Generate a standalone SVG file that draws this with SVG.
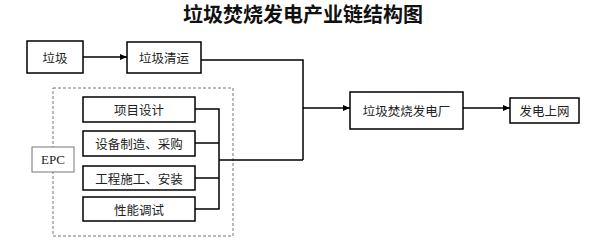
<svg xmlns="http://www.w3.org/2000/svg" width="609" height="251" viewBox="0 0 609 251">
<style>
.box{fill:#fff;stroke:#000;stroke-width:1.5}
.t{font-family:"Noto Sans CJK SC","Liberation Sans",sans-serif;font-size:12.5px;fill:#222;text-anchor:middle;dominant-baseline:central}
.ln{fill:none;stroke:#000;stroke-width:1.5}
</style>
<defs>
<marker id="ah" markerWidth="8" markerHeight="8" refX="7" refY="4" orient="auto" markerUnits="userSpaceOnUse">
<path d="M0,1 L7,4 L0,7 Z" fill="#000"/>
</marker>
</defs>
<rect width="609" height="251" fill="#fff"/>
<text x="303" y="13" font-family="'Noto Sans CJK SC',sans-serif" font-size="20" font-weight="bold" text-anchor="middle" dominant-baseline="central" fill="#111">垃圾焚烧发电产业链结构图</text>
<g id="epc-frame">
<rect x="53" y="88" width="180" height="148" fill="none" stroke="#777" stroke-width="1" stroke-dasharray="3,2"/>
</g>
<g id="connectors">
<line class="ln" x1="83" y1="57" x2="127" y2="57" marker-end="url(#ah)"/>
<polyline class="ln" points="201,60 303,60 303,160"/>
<polyline class="ln" points="195,109 219,109 219,209 195,209"/>
<line class="ln" x1="195" y1="143" x2="219" y2="143"/>
<line class="ln" x1="195" y1="178" x2="219" y2="178"/>
<line class="ln" x1="219" y1="160" x2="303" y2="160"/>
<line class="ln" x1="303" y1="108" x2="350" y2="108" marker-end="url(#ah)"/>
<line class="ln" x1="463" y1="108" x2="510" y2="108" marker-end="url(#ah)"/>
</g>
<g id="n-laji"><rect class="box" x="27" y="41" width="56" height="32"/><text class="t" x="55" y="57">垃圾</text></g>
<g id="n-qingyun"><rect class="box" x="127" y="42" width="74" height="31"/><text class="t" x="164" y="57.5">垃圾清运</text></g>
<g id="n-sheji"><rect class="box" x="83" y="97" width="112" height="25"/><text class="t" x="139" y="109.5">项目设计</text></g>
<g id="n-caigou"><rect class="box" x="83" y="131" width="112" height="25"/><text class="t" x="139" y="143.5">设备制造、采购</text></g>
<g id="n-anzhuang"><rect class="box" x="83" y="166" width="112" height="24"/><text class="t" x="139" y="178">工程施工、安装</text></g>
<g id="n-tiaoshi"><rect class="box" x="83" y="197" width="112" height="24"/><text class="t" x="139" y="209">性能调试</text></g>
<g id="n-epc"><rect x="32" y="147" width="42" height="25" fill="#fff" stroke="#777" stroke-width="1"/><text x="53" y="159.5" font-family="'Liberation Serif',serif" font-size="13" text-anchor="middle" dominant-baseline="central" fill="#222">EPC</text></g>
<g id="n-plant"><rect class="box" x="350" y="92" width="113" height="37"/><text class="t" x="406.5" y="110.5">垃圾焚烧发电厂</text></g>
<g id="n-grid"><rect class="box" x="510" y="98" width="69" height="25"/><text class="t" x="544.5" y="110.5">发电上网</text></g>
</svg>
